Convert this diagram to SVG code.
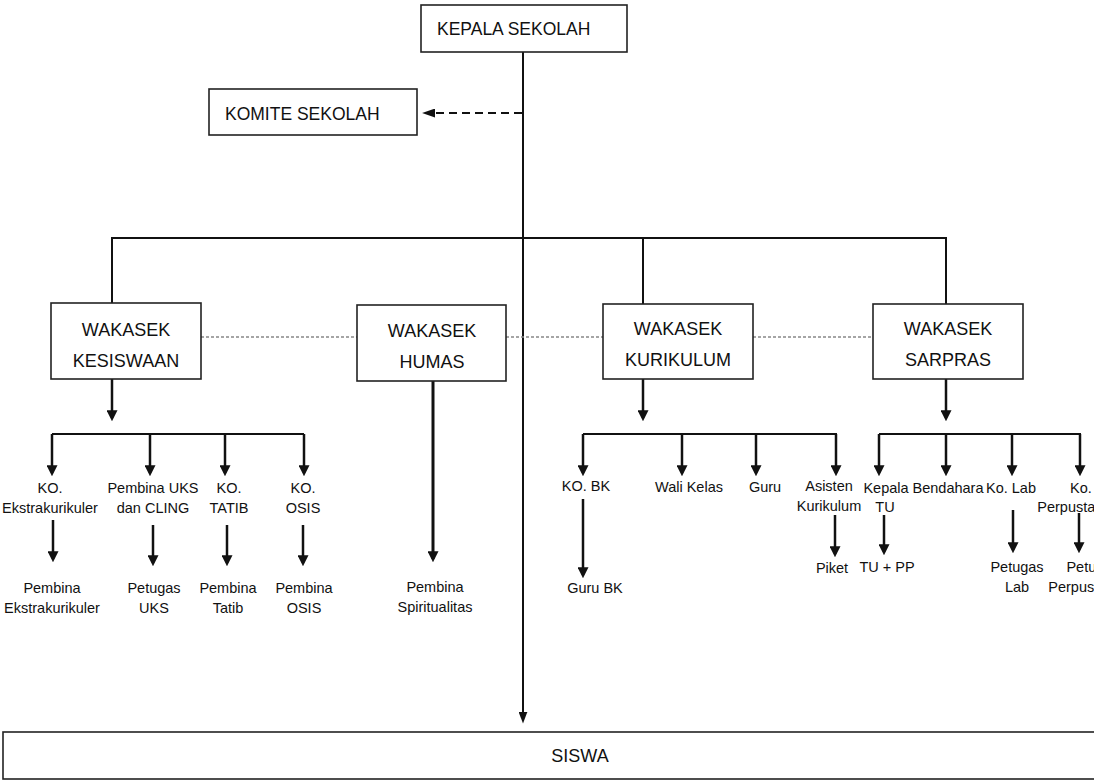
<svg xmlns="http://www.w3.org/2000/svg" width="1094" height="780" viewBox="0 0 1094 780">
<style>
.box{fill:#fff;stroke:#222;stroke-width:1.6}
.big{font-family:"Liberation Sans",Arial,sans-serif;font-size:17.5px;fill:#111}
.wk{font-family:"Liberation Sans",Arial,sans-serif;font-size:18px;fill:#111;text-anchor:middle}
.sm{font-family:"Liberation Sans",Arial,sans-serif;font-size:14.5px;fill:#111;text-anchor:middle}
.ln{stroke:#111;stroke-width:2;fill:none}
.ar{stroke:#111;stroke-width:2.5;fill:none;marker-end:url(#ah)}
.dot{stroke:#888;stroke-width:1.5;stroke-dasharray:3 2;fill:none}
</style>
<defs>
<marker id="ah" viewBox="0 0 10 10" refX="7" refY="5" markerWidth="11" markerHeight="11" markerUnits="userSpaceOnUse" orient="auto"><path d="M0,0 L10,5 L0,10 z" fill="#111"/></marker>
<marker id="ahT" viewBox="0 0 10 10" refX="7" refY="5" markerWidth="12" markerHeight="9" markerUnits="userSpaceOnUse" orient="auto" preserveAspectRatio="none"><path d="M0,0 L10,5 L0,10 z" fill="#111"/></marker>
<marker id="ahD" viewBox="0 0 10 10" refX="7" refY="5" markerWidth="13" markerHeight="9" markerUnits="userSpaceOnUse" orient="auto" preserveAspectRatio="none"><path d="M0,0 L10,5 L0,10 z" fill="#111"/></marker>
</defs>
<rect width="1094" height="780" fill="#fff"/>
<g id="connectors">
<line class="ln" x1="523" y1="52" x2="523" y2="720" style="marker-end:url(#ahT)"/>
<line class="ln" x1="522" y1="113" x2="426" y2="113" stroke-dasharray="8 5" style="marker-end:url(#ahD)"/>
<polyline class="ln" points="112,303 112,238 946,238 946,304"/>
<line class="ln" x1="643" y1="238" x2="643" y2="304"/>
<line class="dot" x1="201" y1="337" x2="357" y2="337"/>
<line class="dot" x1="506" y1="337" x2="603" y2="337"/>
<line class="dot" x1="753" y1="337" x2="873" y2="337"/>
<line class="ar" x1="112" y1="379" x2="112" y2="418"/>
<line class="ar" x1="643" y1="379" x2="643" y2="418"/>
<line class="ar" x1="946" y1="379" x2="946" y2="418"/>
<line class="ar" x1="433" y1="381" x2="433" y2="559" style="stroke-width:3"/>
<polyline class="ln" points="52,434 304,434"/>
<polyline class="ln" points="583,434 837,434"/>
<polyline class="ln" points="879,434 1081,434"/>
<line class="ar" x1="52" y1="434" x2="52" y2="473"/>
<line class="ar" x1="150" y1="434" x2="150" y2="473"/>
<line class="ar" x1="225" y1="434" x2="225" y2="473"/>
<line class="ar" x1="304" y1="434" x2="304" y2="473"/>
<line class="ar" x1="583" y1="434" x2="583" y2="473"/>
<line class="ar" x1="682" y1="434" x2="682" y2="473"/>
<line class="ar" x1="756" y1="434" x2="756" y2="473"/>
<line class="ar" x1="836" y1="434" x2="836" y2="473"/>
<line class="ar" x1="879" y1="434" x2="879" y2="473"/>
<line class="ar" x1="946" y1="434" x2="946" y2="473"/>
<line class="ar" x1="1012" y1="434" x2="1012" y2="473"/>
<line class="ar" x1="1080" y1="434" x2="1080" y2="473"/>
<line class="ar" x1="53" y1="520" x2="53" y2="559"/>
<line class="ar" x1="153" y1="525" x2="153" y2="563"/>
<line class="ar" x1="227" y1="525" x2="227" y2="563"/>
<line class="ar" x1="303" y1="525" x2="303" y2="563"/>
<line class="ar" x1="583" y1="499" x2="583" y2="575"/>
<line class="ar" x1="835" y1="515" x2="835" y2="554"/>
<line class="ar" x1="884" y1="515" x2="884" y2="552"/>
<line class="ar" x1="1013" y1="510" x2="1013" y2="550"/>
<line class="ar" x1="1079" y1="513" x2="1079" y2="550"/>
</g>
<g id="kepala"><rect class="box" x="421" y="5" width="206" height="47"/><text class="big" x="437" y="35">KEPALA SEKOLAH</text></g>
<g id="komite"><rect class="box" x="209" y="89" width="208" height="46"/><text class="big" x="225" y="120">KOMITE SEKOLAH</text></g>
<g id="kesiswaan"><rect class="box" x="51" y="303" width="150" height="76"/><text class="wk" x="126" y="336">WAKASEK</text><text class="wk" x="126" y="367">KESISWAAN</text></g>
<g id="humas"><rect class="box" x="357" y="305" width="149" height="76"/><text class="wk" x="432" y="337">WAKASEK</text><text class="wk" x="432" y="368">HUMAS</text></g>
<g id="kurikulum"><rect class="box" x="603" y="304" width="150" height="75"/><text class="wk" x="678" y="335">WAKASEK</text><text class="wk" x="678" y="366">KURIKULUM</text></g>
<g id="sarpras"><rect class="box" x="873" y="304" width="150" height="75"/><text class="wk" x="948" y="335">WAKASEK</text><text class="wk" x="948" y="366">SARPRAS</text></g>
<g id="siswa"><rect class="box" x="3" y="732" width="1100" height="47"/><text class="wk" x="580" y="762">SISWA</text></g>
<g id="ko-ekstra"><text class="sm" x="50" y="493">KO.</text><text class="sm" x="50" y="513">Ekstrakurikuler</text></g>
<g id="pembina-uks"><text class="sm" x="153" y="493">Pembina UKS</text><text class="sm" x="153" y="513">dan CLING</text></g>
<g id="ko-tatib"><text class="sm" x="229" y="493">KO.</text><text class="sm" x="229" y="513">TATIB</text></g>
<g id="ko-osis"><text class="sm" x="303" y="493">KO.</text><text class="sm" x="303" y="513">OSIS</text></g>
<g id="pembina-ekstra"><text class="sm" x="52" y="593">Pembina</text><text class="sm" x="52" y="613">Ekstrakurikuler</text></g>
<g id="petugas-uks"><text class="sm" x="154" y="593">Petugas</text><text class="sm" x="154" y="613">UKS</text></g>
<g id="pembina-tatib"><text class="sm" x="228" y="593">Pembina</text><text class="sm" x="228" y="613">Tatib</text></g>
<g id="pembina-osis"><text class="sm" x="304" y="593">Pembina</text><text class="sm" x="304" y="613">OSIS</text></g>
<g id="pembina-spirit"><text class="sm" x="435" y="592">Pembina</text><text class="sm" x="435" y="612">Spiritualitas</text></g>
<g id="ko-bk"><text class="sm" x="586" y="491">KO. BK</text></g>
<g id="wali-kelas"><text class="sm" x="689" y="492">Wali Kelas</text></g>
<g id="guru"><text class="sm" x="765" y="492">Guru</text></g>
<g id="asisten"><text class="sm" x="829" y="491">Asisten</text><text class="sm" x="829" y="511">Kurikulum</text></g>
<g id="guru-bk"><text class="sm" x="595" y="593">Guru BK</text></g>
<g id="piket"><text class="sm" x="832" y="573">Piket</text></g>
<g id="kepala-tu"><text class="sm" x="886" y="493">Kepala</text><text class="sm" x="885" y="512">TU</text></g>
<g id="bendahara"><text class="sm" x="948" y="493">Bendahara</text></g>
<g id="ko-lab"><text class="sm" x="1011" y="493">Ko. Lab</text></g>
<g id="ko-perpus"><text class="sm" x="1081" y="493">Ko.</text><text class="sm" x="1082" y="512">Perpustakaan</text></g>
<g id="tu-pp"><text class="sm" x="887" y="572">TU + PP</text></g>
<g id="petugas-lab"><text class="sm" x="1017" y="572">Petugas</text><text class="sm" x="1017" y="592">Lab</text></g>
<g id="petugas-perpus"><text class="sm" x="1093" y="572">Petugas</text><text class="sm" x="1093" y="592">Perpustakaan</text></g>
</svg>
